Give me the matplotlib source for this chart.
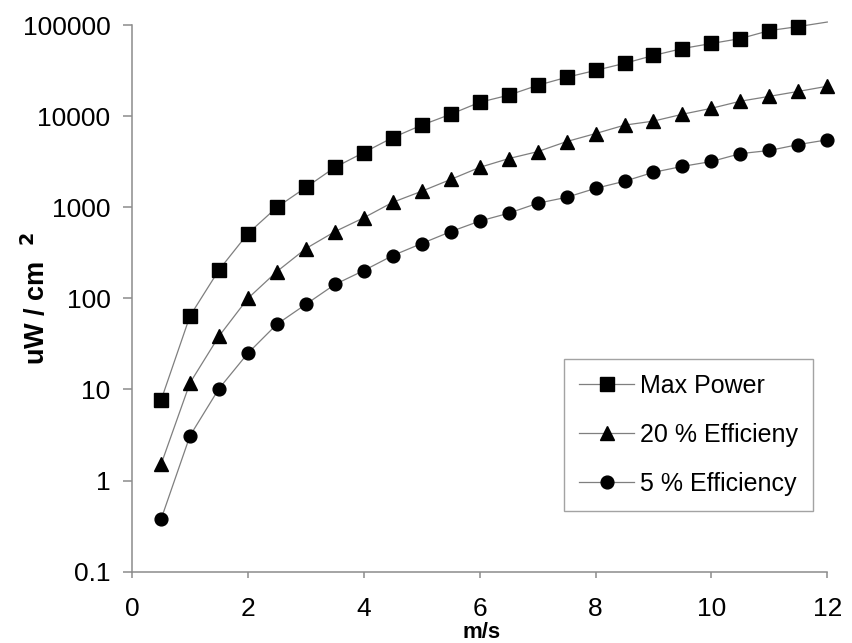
import matplotlib
matplotlib.use("Agg")
import matplotlib.pyplot as plt

plt.rcParams['font.family'] = ['Liberation Sans', 'DejaVu Sans']

speed = [0.5, 1, 1.5, 2, 2.5, 3, 3.5, 4, 4.5, 5, 5.5, 6, 6.5, 7, 7.5, 8,
         8.5, 9, 9.5, 10, 10.5, 11, 11.5, 12]
max_power = [7.6, 64, 205, 515, 1000, 1650, 2740, 3990, 5820, 7970, 10500,
             14200, 17000, 21800, 26700, 31800, 38000, 46400, 55300, 62800,
             71100, 87000, 96300, 108000]
eff_20 = [1.5, 11.8, 38.4, 100, 197, 352, 540, 767, 1134, 1500, 2020, 2740,
          3420, 4080, 5260, 6440, 7970, 8830, 10500, 12200, 14600, 16500,
          18700, 21300]
eff_5 = [0.375, 3.1, 10.2, 25, 52, 86, 142, 202, 295, 400, 540, 705, 860,
         1106, 1286, 1612, 1930, 2420, 2810, 3180, 3880, 4200, 4880, 5500]
labels = ['Max Power', '20 % Efficieny', '5 % Efficiency']

fig = plt.figure(figsize=(8.52, 6.43), dpi=100)
ax = fig.add_axes([0.155, 0.111, 0.816, 0.850])

line_c = '#7f7f7f'
axis_c = '#8c8c8c'
ax.plot(speed, max_power, color=line_c, lw=0.9, marker='s', ms=9.5,
        mfc='black', mec='black', markevery=list(range(len(speed) - 1)),
        clip_on=False, label=labels[0])
ax.plot(speed, eff_20, color=line_c, lw=0.9, marker='^', ms=10.5,
        mfc='black', mec='black', clip_on=False, label=labels[1])
ax.plot(speed, eff_5, color=line_c, lw=0.9, marker='o', ms=9.2,
        mfc='black', mec='black', clip_on=False, label=labels[2])

ax.set_yscale('log')
ax.set_ylim(0.1, 100000)
ax.set_xlim(0, 12)
ax.set_xticks(range(0, 13, 2))
ax.set_yticks([0.1, 1, 10, 100, 1000, 10000, 100000])
ax.set_yticklabels(['0.1', '1', '10', '100', '1000', '10000', '100000'])
ax.minorticks_off()

for s in ['top', 'right']:
    ax.spines[s].set_visible(False)
for s in ['left', 'bottom']:
    ax.spines[s].set_color(axis_c)
    ax.spines[s].set_linewidth(1.1)
ax.tick_params(axis='y', direction='out', length=6.5, width=1.1,
               color=axis_c, labelsize=19, pad=9)
ax.tick_params(axis='x', direction='out', length=4.5, width=1.1,
               color=axis_c, labelsize=19, pad=14)

fig.text(0.565, 0.0, 'm/s', ha='center', va='bottom', fontsize=16,
         fontweight='bold')
fig.text(0.043, 0.535, 'uW / cm  $^{\\bf 2}$', ha='center', va='center',
         rotation=90, fontsize=19.5, fontweight='bold')

leg = ax.legend(loc='upper left', bbox_to_anchor=(564 / 852, 1 - 359 / 643),
                bbox_transform=fig.transFigure, fontsize=18, frameon=True,
                fancybox=False, borderaxespad=0, handlelength=2.2,
                handletextpad=0.25, labelspacing=1.0, borderpad=0.6)
leg.get_frame().set_edgecolor(axis_c)
leg.get_frame().set_linewidth(1.0)

fig.savefig('out.png', dpi=100)
